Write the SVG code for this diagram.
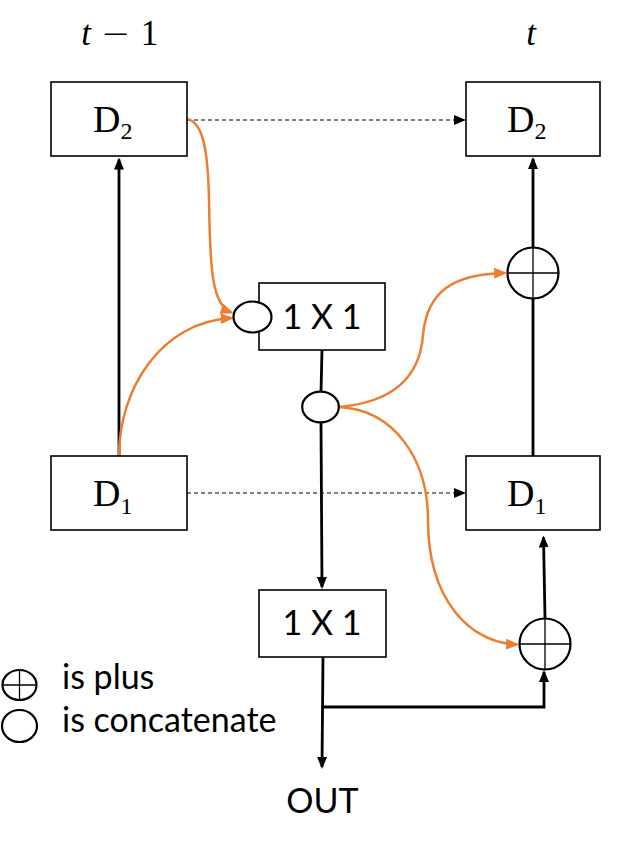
<svg xmlns="http://www.w3.org/2000/svg" width="630" height="848" viewBox="0 0 630 848">
<style>
  .box { fill: #ffffff; stroke: #000000; stroke-width: 1.6; }
  .node { fill: #ffffff; stroke: #000000; stroke-width: 2.2; }
  .cross { stroke: #000000; stroke-width: 1.3; }
  .thick { fill: none; stroke: #000000; stroke-width: 2.8; }
  .dash { fill: none; stroke: #000000; stroke-width: 1.1; stroke-dasharray: 4 3; }
  .orange { fill: none; stroke: #ED7D31; stroke-width: 2.5; }
  .serif { font-family: "Liberation Serif", "DejaVu Serif", serif; fill: #000000; }
  .sans { font-family: Lato, "Liberation Sans", sans-serif; fill: #000000; }
  .dl { font-size: 38px; }
  .sub { font-size: 24px; }
  .conv { font-size: 34px; text-anchor: middle; }
  .leg { font-size: 34px; }
  .tl { font-size: 35px; text-anchor: middle; }
</style>
<defs>
  <marker id="ab" viewBox="0 0 12 10" refX="10" refY="5" markerWidth="12" markerHeight="10" markerUnits="userSpaceOnUse" orient="auto">
    <path d="M0,0 L12,5 L0,10 z" fill="#000000"/>
  </marker>
  <marker id="ao" viewBox="0 0 12 10" refX="10" refY="5" markerWidth="13" markerHeight="11" markerUnits="userSpaceOnUse" orient="auto">
    <path d="M0,0 L12,5 L0,10 z" fill="#ED7D31"/>
  </marker>
</defs>
<rect width="630" height="848" fill="#ffffff"/>

<g id="connectors">
  <path class="thick" d="M119,456 L119,159.5" marker-end="url(#ab)"/>
  <path class="thick" d="M533,456 L533,299"/>
  <path class="thick" d="M533,247 L533,159" marker-end="url(#ab)"/>
  <path class="thick" d="M322,350 L321,392"/>
  <path class="thick" d="M321,422 L322,587" marker-end="url(#ab)"/>
  <path class="thick" d="M323,657 L322,767" marker-end="url(#ab)"/>
  <path class="thick" d="M323,707 L544,707 L544,672" marker-end="url(#ab)"/>
  <path class="thick" d="M545,618 L543.5,537.5" marker-end="url(#ab)"/>
  <path class="dash" d="M187,120 L464,120" marker-end="url(#ab)"/>
  <path class="dash" d="M187,493 L464,493" marker-end="url(#ab)"/>
  <path class="orange" d="M187,119 C203,122 208,150 209,200 C210,270 212,305 231.5,312.5" marker-end="url(#ao)"/>
  <path class="orange" d="M119,456 C119,390 160,322 231.5,318" marker-end="url(#ao)"/>
  <path class="orange" d="M339,407 C395,402 420,375 423,335 C427,290 455,274 505,273" marker-end="url(#ao)"/>
  <path class="orange" d="M339,407 C395,410 428,460 428,520 C428,600 470,643 517,644.5" marker-end="url(#ao)"/>
</g>

<g id="label-t-prev" class="serif">
  <text class="tl" x="86" y="44.5" font-style="italic">t</text>
  <text class="tl" x="115.5" y="44.5" font-family="DejaVu Sans, sans-serif" font-weight="200" font-size="30">−</text>
  <text class="tl" x="149.5" y="44.5">1</text>
</g>
<g id="label-t-cur" class="serif">
  <text class="tl" x="531" y="44.5" font-style="italic">t</text>
</g>

<g id="node-d2-prev">
  <rect class="box" x="51" y="82" width="136" height="74"/>
  <text class="serif dl" x="93" y="131.5">D<tspan class="sub" dy="7.5">2</tspan></text>
</g>
<g id="node-d1-prev">
  <rect class="box" x="51" y="456" width="136" height="74"/>
  <text class="serif dl" x="93" y="506">D<tspan class="sub" dy="7.5">1</tspan></text>
</g>
<g id="node-d2-cur">
  <rect class="box" x="466" y="82" width="134" height="74"/>
  <text class="serif dl" x="507" y="131.5">D<tspan class="sub" dy="7.5">2</tspan></text>
</g>
<g id="node-d1-cur">
  <rect class="box" x="466" y="456" width="134" height="74"/>
  <text class="serif dl" x="507" y="506">D<tspan class="sub" dy="7.5">1</tspan></text>
</g>

<g id="node-conv-top">
  <rect class="box" x="259" y="283" width="126" height="67"/>
  <text class="sans conv" x="322" y="329">1 X 1</text>
</g>
<g id="node-concat-top">
  <ellipse class="node" cx="252.5" cy="317" rx="19" ry="15.5"/>
</g>
<g id="node-concat-mid">
  <ellipse class="node" cx="320.5" cy="407" rx="18.3" ry="15.3"/>
</g>
<g id="node-conv-bottom">
  <rect class="box" x="259" y="590" width="127" height="67"/>
  <text class="sans conv" x="322" y="635">1 X 1</text>
</g>
<g id="node-plus-top">
  <circle class="node" cx="533" cy="273" r="25.5"/>
  <line class="cross" x1="507.5" y1="273" x2="558.5" y2="273"/>
  <line class="cross" x1="533" y1="247.5" x2="533" y2="298.5"/>
</g>
<g id="node-plus-bottom">
  <circle class="node" cx="545" cy="644" r="25.5"/>
  <line class="cross" x1="519.5" y1="644" x2="570.5" y2="644"/>
  <line class="cross" x1="545" y1="618.5" x2="545" y2="669.5"/>
</g>
<g id="label-out">
  <text class="sans conv" x="322.5" y="813">OUT</text>
</g>

<g id="legend">
  <ellipse class="node" cx="19.5" cy="685" rx="17" ry="15" stroke-width="2"/>
  <line class="cross" x1="2.5" y1="685" x2="36.5" y2="685"/>
  <line class="cross" x1="19.5" y1="670" x2="19.5" y2="700"/>
  <ellipse class="node" cx="19.5" cy="726" rx="17.5" ry="16" stroke-width="2"/>
  <text class="sans leg" x="62" y="689">is plus</text>
  <text class="sans leg" x="62" y="732">is concatenate</text>
</g>
</svg>
